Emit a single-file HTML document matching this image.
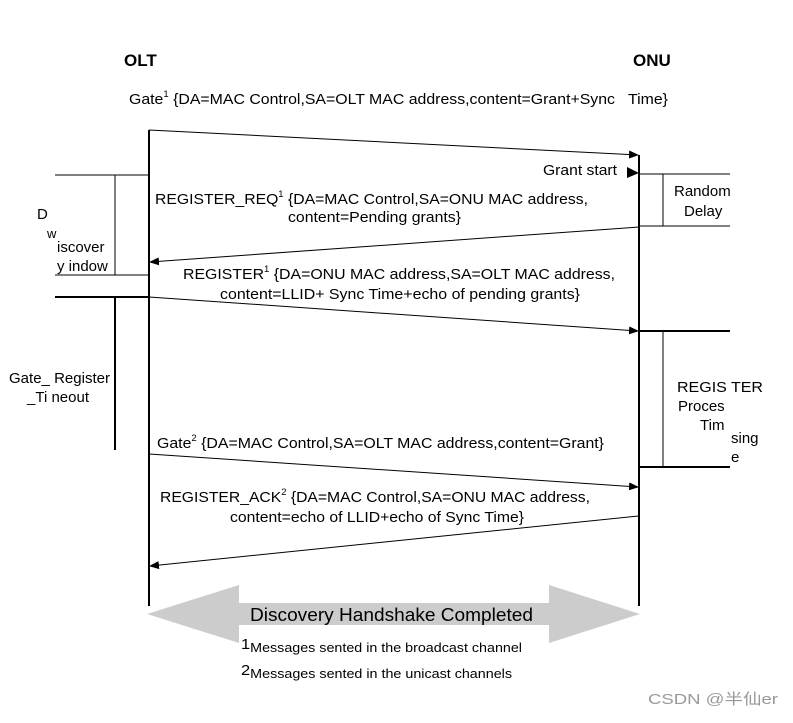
<!DOCTYPE html>
<html><head><style>body{margin:0;background:#fff}</style></head><body>
<svg width="793" height="718" xmlns="http://www.w3.org/2000/svg" font-family="Liberation Sans, Arial, sans-serif" font-size="15" fill="#000">
<defs><marker id="a" markerWidth="10" markerHeight="8" refX="9" refY="4" orient="auto" markerUnits="userSpaceOnUse"><path d="M0,0L10,4L0,8z"/></marker></defs>
<text x="124" y="66" font-size="17" font-weight="bold">OLT</text>
<text x="633" y="66" font-size="17" font-weight="bold">ONU</text>
<text x="129" y="104" textLength="486" lengthAdjust="spacingAndGlyphs">Gate<tspan font-size="9" dy="-7">1</tspan><tspan dy="7"> {DA=MAC Control,SA=OLT MAC address,content=Grant+Sync</tspan></text>
<text x="628" y="104" textLength="40" lengthAdjust="spacingAndGlyphs">Time}</text>
<g stroke="#000" fill="none">
<line x1="149" y1="130" x2="149" y2="606" stroke-width="2"/>
<line x1="639" y1="155" x2="639" y2="606" stroke-width="2"/>
<line x1="149" y1="130" x2="638" y2="155" marker-end="url(#a)"/>
<line x1="639" y1="227" x2="150" y2="262" marker-end="url(#a)"/>
<line x1="149" y1="297" x2="638" y2="331" marker-end="url(#a)"/>
<line x1="149" y1="454" x2="638" y2="487" marker-end="url(#a)"/>
<line x1="639" y1="516" x2="150" y2="566" marker-end="url(#a)"/>
<line x1="55" y1="175" x2="149" y2="175"/>
<line x1="55" y1="275" x2="149" y2="275"/>
<line x1="115" y1="175" x2="115" y2="275"/>
<line x1="55" y1="297" x2="149" y2="297" stroke-width="2"/>
<line x1="115" y1="297" x2="115" y2="450" stroke-width="2"/>
<line x1="639" y1="174" x2="730" y2="174"/>
<line x1="639" y1="226" x2="730" y2="226"/>
<line x1="663" y1="174" x2="663" y2="226"/>
<line x1="639" y1="331" x2="730" y2="331" stroke-width="2"/>
<line x1="639" y1="467" x2="730" y2="467" stroke-width="2"/>
<line x1="663" y1="331" x2="663" y2="467"/>
</g>
<path d="M627,167L639,173L627,178z"/>
<text x="543" y="175" textLength="74" lengthAdjust="spacingAndGlyphs">Grant start</text>
<text x="674" y="196">Random</text><text x="684" y="216">Delay</text>
<text x="155" y="204" textLength="433" lengthAdjust="spacingAndGlyphs">REGISTER_REQ<tspan font-size="9" dy="-7">1</tspan><tspan dy="7"> {DA=MAC Control,SA=ONU MAC address,</tspan></text>
<text x="288" y="222" textLength="173" lengthAdjust="spacingAndGlyphs">content=Pending grants}</text>
<text x="183" y="279" textLength="432" lengthAdjust="spacingAndGlyphs">REGISTER<tspan font-size="9" dy="-7">1</tspan><tspan dy="7"> {DA=ONU MAC address,SA=OLT MAC address,</tspan></text>
<text x="220" y="299" textLength="360" lengthAdjust="spacingAndGlyphs">content=LLID+ Sync Time+echo of pending grants}</text>
<text x="37" y="219">D</text><text x="47" y="238" font-size="13">w</text>
<text x="57" y="252">iscover</text><text x="57" y="271">y indow</text>
<text x="9" y="383" textLength="101" lengthAdjust="spacingAndGlyphs">Gate_ Register</text><text x="27" y="402">_Ti neout</text>
<text x="677" y="392" textLength="86" lengthAdjust="spacingAndGlyphs">REGIS TER</text><text x="678" y="411">Proces</text><text x="700" y="430">Tim</text>
<text x="731" y="443">sing</text><text x="731" y="462">e</text>
<text x="157" y="448" textLength="447" lengthAdjust="spacingAndGlyphs">Gate<tspan font-size="9" dy="-7">2</tspan><tspan dy="7"> {DA=MAC Control,SA=OLT MAC address,content=Grant}</tspan></text>
<text x="160" y="502" textLength="430" lengthAdjust="spacingAndGlyphs">REGISTER_ACK<tspan font-size="9" dy="-7">2</tspan><tspan dy="7"> {DA=MAC Control,SA=ONU MAC address,</tspan></text>
<text x="230" y="522" textLength="294" lengthAdjust="spacingAndGlyphs">content=echo of LLID+echo of Sync Time}</text>
<path d="M147,614L239,585L239,603L549,603L549,585L640,614L549,643L549,625L239,625L239,643z" fill="#cccccc"/>
<text x="250" y="621" font-size="18" textLength="283" lengthAdjust="spacingAndGlyphs">Discovery Handshake Completed</text>
<text x="241" y="652" font-size="13" textLength="281" lengthAdjust="spacingAndGlyphs"><tspan font-size="15" dy="-3">1</tspan><tspan dy="3">Messages sented in the broadcast channel</tspan></text>
<text x="241" y="678" font-size="13" textLength="271" lengthAdjust="spacingAndGlyphs"><tspan font-size="15" dy="-3">2</tspan><tspan dy="3">Messages sented in the unicast channels</tspan></text>
<text x="648" y="704" font-size="15" fill="#999" textLength="130" lengthAdjust="spacingAndGlyphs">CSDN @半仙er</text>
</svg>
</body></html>
